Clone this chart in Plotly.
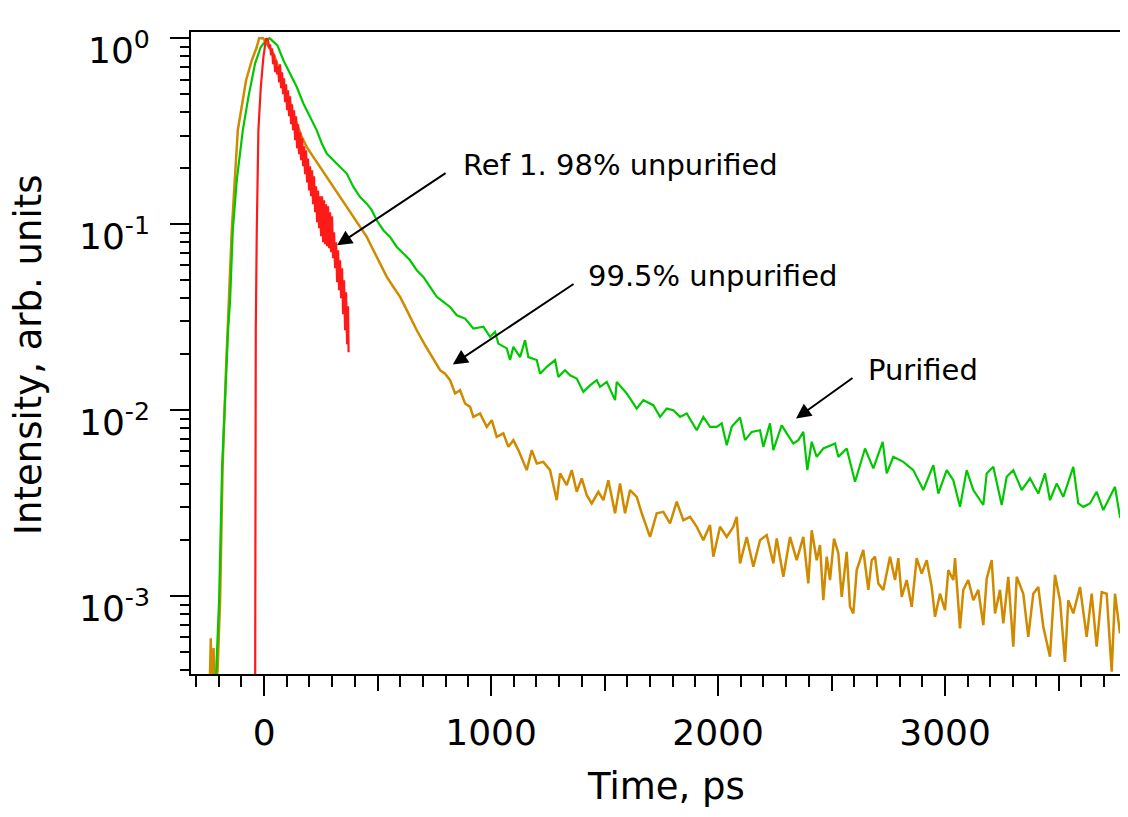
import numpy as np
import plotly.graph_objects as go

# ---------------- data (time in ps, normalized intensity) ----------------
green_t = [-214, -198.2, -185.0, -167.4, -158.6, -149.8, -137.9, -120.3, -93.8, -69.2, -39.6, -14.5, 13.2, 25.0,
           58.6, 85.0, 114.5, 144.0, 173.1, 202.6, 232.1, 254.2, 276.2, 305.3, 334.8, 364.3, 393.4, 422.9, 452.4,
           474.4, 496.4, 525.5, 555.0, 584.5, 613.6, 643.1, 672.6, 701.7, 731.2, 760.7, 789.8, 819.3, 848.8, 885.4,
           922.0, 966.0, 995.5, 1017.6, 1032.1, 1069.1, 1083.6, 1098.2, 1127.7, 1149.7, 1164.2, 1201.3, 1215.8,
           1245.3, 1281.9, 1296.4, 1325.9, 1347.9, 1377.4, 1406.5, 1436.0, 1465.5, 1480.1, 1509.6, 1546.2, 1553.6,
           1597.7, 1641.7, 1670.8, 1714.9, 1744.4, 1773.9, 1803.0, 1832.5, 1862.0, 1906.0, 1935.1, 1964.6, 1994.1,
           2016.2, 2038.2, 2060.2, 2096.8, 2118.8, 2148.3, 2184.9, 2199.4, 2228.9, 2243.5, 2280.5, 2302.5, 2331.6,
           2353.6, 2375.6, 2393.2, 2412.6, 2434.6, 2463.7, 2515.3, 2529.8, 2566.8, 2603.4, 2647.4, 2684.0, 2725.4,
           2743.0, 2772.0, 2816.1, 2860.2, 2904.2, 2948.3, 2970.3, 3007.3, 3036.4, 3065.9, 3095.4, 3124.5, 3168.5,
           3183.5, 3212.6, 3249.6, 3271.6, 3300.7, 3337.7, 3374.2, 3410.8, 3440.3, 3462.3, 3491.8, 3520.9, 3565.0,
           3587.0, 3609.0, 3638.5, 3668.0, 3697.1, 3748.7, 3770.7, 3805.9]
green_i = [3.2e-4, 9.5e-4, 4.94e-3, 0.0170, 0.0269, 0.0390, 0.0929, 0.1725, 0.320, 0.483, 0.734, 0.898, 0.99, 1.0,
           0.917, 0.762, 0.646, 0.547, 0.446, 0.377, 0.320, 0.272, 0.240, 0.221, 0.203, 0.1874, 0.1588, 0.140, 0.129,
           0.119, 0.105, 0.0929, 0.0855, 0.0755, 0.0696, 0.0640, 0.0566, 0.0521, 0.0460, 0.0407, 0.0382, 0.0359,
           0.0324, 0.0311, 0.0275, 0.0281, 0.0248, 0.0264, 0.0228, 0.0215, 0.0186, 0.0219, 0.0193, 0.0238, 0.0193,
           0.0186, 0.0157, 0.0171, 0.0186, 0.0151, 0.0164, 0.0154, 0.0148, 0.01254, 0.0136, 0.0145, 0.01334, 0.0142,
           0.01132, 0.0142, 0.0123, 0.0102, 0.01132, 0.01064, 0.0092, 0.0102, 0.0100, 0.0092, 0.0096, 0.0078, 0.0092,
           0.00813, 0.00813, 0.00849, 0.00648, 0.00813, 0.00914, 0.00690, 0.00764, 0.0078, 0.00635, 0.00849, 0.0061,
           0.0083, 0.0075, 0.00662, 0.0069, 0.00764, 0.00476, 0.00676, 0.00561, 0.00622, 0.00662, 0.00561, 0.00622,
           0.00412, 0.00622, 0.00486, 0.00676, 0.00457, 0.00561, 0.00527, 0.00476, 0.00372, 0.00506, 0.00356,
           0.00476, 0.00420, 0.00302, 0.00476, 0.00372, 0.00309, 0.00457, 0.00496, 0.00309, 0.00438, 0.00476,
           0.00372, 0.0043, 0.00356, 0.00457, 0.00328, 0.00403, 0.00342, 0.00496, 0.00315, 0.00302, 0.00315,
           0.00364, 0.0029, 0.00387, 0.00267, 0.00246]

orange_t = [-240, -234.8, -231.3, -222.5, -217, -204.8, -193.8, -182.8, -167.4, -159.9, -142.3, -115.9, -98.2, -79.3,
            -54.2, -32.2, -22.0, -4.4, 41.0, 63.0, 85.0, 107.0, 122.0, 144.0, 166.1, 188.1, 217.2, 246.7, 276.2,
            305.3, 334.8, 364.3, 393.4, 422.9, 452.4, 474.4, 496.4, 518.5, 540.5, 569.6, 599.1, 628.6, 657.7, 672.6,
            709.2, 740.0, 775.3, 797.3, 819.3, 841.4, 863.4, 885.4, 907.4, 922.0, 951.5, 981.0, 1003.0, 1025.0,
            1054.1, 1076.1, 1098.2, 1120.2, 1157.2, 1179.2, 1201.3, 1230.3, 1259.8, 1289.3, 1303.9, 1333.4, 1355.4,
            1377.4, 1399.5, 1421.5, 1443.5, 1472.6, 1494.6, 1516.6, 1546.2, 1568.2, 1590.2, 1612.2, 1641.7, 1663.8,
            1700.3, 1729.8, 1758.9, 1788.4, 1817.9, 1847.0, 1876.5, 1906.0, 1935.1, 1964.6, 1979.2, 2008.7, 2038.2,
            2067.3, 2082.2, 2096.8, 2126.3, 2155.4, 2184.9, 2214.4, 2243.5, 2258.4, 2287.5, 2317.0, 2346.5, 2375.6,
            2397.6, 2412.6, 2434.6, 2449.2, 2463.7, 2478.7, 2493.2, 2510.9, 2529.8, 2544.8, 2566.8, 2581.3, 2595.9,
            2610.8, 2639.9, 2662.0, 2676.9, 2691.5, 2706.0, 2728.0, 2757.5, 2779.6, 2794.1, 2809.1, 2831.1, 2853.1,
            2875.1, 2897.2, 2919.2, 2941.2, 2955.8, 2977.8, 2999.8, 3014.4, 3036.4, 3043.9, 3065.9, 3080.4, 3102.4,
            3124.5, 3146.5, 3168.5, 3183.5, 3205.5, 3220.1, 3242.1, 3256.7, 3278.6, 3300.7, 3315.7, 3344.7, 3366.7,
            3388.8, 3410.8, 3432.8, 3462.3, 3484.4, 3506.4, 3528.4, 3543.0, 3565.0, 3594.5, 3624.0, 3646.1, 3668.0,
            3690.1, 3712.1, 3734.1, 3748.7, 3770.7, 3785.2, 3805.9]
orange_i = [3.0e-4, 5.94e-4, 3.0e-4, 5.25e-4, 3.0e-4, 4.0e-4, 9.5e-4, 4.94e-3, 0.017, 0.0269, 0.0929, 0.320, 0.427,
            0.595, 0.762, 0.898, 1.0, 1.0, 0.828, 0.701, 0.571, 0.483, 0.410, 0.348, 0.295, 0.260, 0.230, 0.203,
            0.1796, 0.1588, 0.140, 0.124, 0.1094, 0.0967, 0.0855, 0.0755, 0.0667, 0.0589, 0.0521, 0.046, 0.0407,
            0.0345, 0.0292, 0.0269, 0.0224, 0.0193, 0.0164, 0.0157, 0.0145, 0.0123, 0.0128, 0.01087, 0.01042, 0.0092,
            0.0096, 0.00813, 0.00883, 0.00718, 0.0075, 0.00635, 0.0069, 0.0061, 0.00476, 0.0061, 0.00517, 0.00527,
            0.00476, 0.00328, 0.00457, 0.00395, 0.00476, 0.00364, 0.0043, 0.00349, 0.00315, 0.00364, 0.00328, 0.0042,
            0.00279, 0.00403, 0.00279, 0.00372, 0.00342, 0.00279, 0.00208, 0.00279, 0.00284, 0.00246, 0.00322,
            0.00256, 0.00267, 0.00236, 0.0020, 0.00241, 0.00163, 0.00236, 0.00208, 0.00236, 0.00267, 0.0015, 0.00208,
            0.00144, 0.0020, 0.00213, 0.0015, 0.00204, 0.00127, 0.00208, 0.00156, 0.00208, 0.00117, 0.00226, 0.00156,
            0.00188, 0.00095, 0.00163, 0.00122, 0.00204, 0.0017, 0.00099, 0.00173, 0.000876, 0.000807, 0.00138,
            0.00177, 0.00108, 0.00156, 0.00163, 0.00117, 0.00108, 0.00163, 0.00122, 0.0016, 0.00099, 0.00122,
            0.000876, 0.0016, 0.00132, 0.00156, 0.00112, 0.000774, 0.00103, 0.000841, 0.00138, 0.00122, 0.0016,
            0.00067, 0.00108, 0.00122, 0.00095, 0.00108, 0.000698, 0.00124, 0.00156, 0.000807, 0.00108, 0.000713,
            0.00127, 0.000534, 0.00127, 0.00103, 0.000604, 0.00103, 0.00112, 0.000684, 0.000472, 0.0013, 0.00095,
            0.000443, 0.00095, 0.000807, 0.00112, 0.000604, 0.00103, 0.000534, 0.00105, 0.00103, 0.000392, 0.00103,
            0.00063, 0.000876, 0.000914]

red_t = [-39.6, -39.6, -36.6, -32.2, -25.1, -14.5, -3.1, 8.8, 17.6, 22.0, 26.4, 30.8, 35.2, 39.6, 44.1, 48.5, 52.9,
         57.3, 61.7, 66.1, 70.5, 74.9, 79.3, 83.7, 88.1, 92.5, 96.9, 101.3, 105.7, 110.1, 114.5, 118.9, 123.3, 127.7,
         132.2, 136.6, 141.0, 145.4, 149.8, 154.2, 158.6, 163.0, 167.4, 171.8, 176.2, 180.6, 185.0, 189.4, 193.8,
         198.2, 202.6, 207.0, 211.4, 215.8, 220.3, 224.7, 229.1, 233.5, 237.9, 242.3, 246.7, 251.1, 255.5, 259.9,
         264.3, 268.7, 273.1, 277.5, 281.9, 286.3, 290.7, 295.1, 299.5, 303.9, 308.4, 312.8, 317.2, 321.6, 326.0,
         330.4, 334.8, 339.2, 343.6, 348.0, 352.4, 356.8, 361.2, 365.6, 370.0, 372.2]
red_i = [2.0e-4, 0.0186, 0.0269, 0.0929, 0.320, 0.547, 0.793, 1.0, 0.975, 0.884, 0.928, 0.810, 0.884, 0.725, 0.820,
         0.657, 0.762, 0.640, 0.707, 0.580, 0.725, 0.539, 0.657, 0.500, 0.609, 0.453, 0.566, 0.410, 0.525, 0.381,
         0.488, 0.345, 0.442, 0.320, 0.410, 0.283, 0.381, 0.256, 0.345, 0.238, 0.312, 0.221, 0.290, 0.205, 0.263,
         0.186, 0.250, 0.168, 0.226, 0.152, 0.205, 0.1415, 0.195, 0.128, 0.181, 0.116, 0.160, 0.1025, 0.152, 0.0952,
         0.1415, 0.0862, 0.1415, 0.080, 0.1346, 0.0780, 0.128, 0.0762, 0.125, 0.0743, 0.116, 0.0707, 0.1104, 0.0657,
         0.0906, 0.058, 0.080, 0.0488, 0.0725, 0.0442, 0.064, 0.040, 0.058, 0.0328, 0.050, 0.0269, 0.0431, 0.0226,
         0.0362, 0.0205]

y_tick_vals = [1, 0.1, 0.01, 0.001]
y_tick_text = ["10<sup>0</sup>", "10<sup>-1</sup>", "10<sup>-2</sup>", "10<sup>-3</sup>"]
x_tick_vals = [0, 1000, 2000, 3000]
x_mid_ticks = [500, 1500, 2500, 3500]

x_title = "Time, ps"
y_title = "Intensity, arb. units"
labels = ["Ref 1. 98% unpurified", "99.5% unpurified", "Purified"]
label_pos = [(867.8, 0.2075), (1418.4, 0.0525), (2651.8, 0.0164)]
arrow_head = [(321.6, 0.0771), (831.2, 0.0176), (2343.5, 0.00902)]
arrow_tail = [(806.1, 0.1905), (1370.0, 0.0483), (2599.0, 0.0151)]

X_RANGE = [-322, 3806]
Y_RANGE = [-3.419, 0.034]

FONT = "DejaVu Sans"
GREEN = "#00C800"
ORANGE = "#D08A00"
RED = "#FF1A1A"

fig = go.Figure()
fig.add_trace(go.Scatter(x=orange_t, y=orange_i, mode="lines", line=dict(color=ORANGE, width=2.5), showlegend=False))
fig.add_trace(go.Scatter(x=green_t, y=green_i, mode="lines", line=dict(color=GREEN, width=2.2), showlegend=False))
fig.add_trace(go.Scatter(x=red_t, y=red_i, mode="lines", line=dict(color=RED, width=2.2), showlegend=False))
# helper trace so the overlay axis (mid ticks) is rendered
fig.add_trace(go.Scatter(x=[x_mid_ticks[0]], y=[None], xaxis="x2", mode="lines", showlegend=False, hoverinfo="skip"))

for (hx, hy), (tx, ty) in zip(arrow_head, arrow_tail):
    fig.add_annotation(x=hx, y=np.log10(hy), ax=tx, ay=np.log10(ty), xref="x", yref="y", axref="x", ayref="y",
                       text="", showarrow=True, arrowhead=2, arrowsize=1.5, arrowwidth=2, arrowcolor="black")
for txt, (lx, ly) in zip(labels, label_pos):
    fig.add_annotation(x=lx, y=np.log10(ly), xref="x", yref="y", text=txt, showarrow=False,
                       xanchor="left", yanchor="middle", font=dict(family=FONT, size=29, color="black"))

# y tick labels (10^n with superscripts), placed as text next to the axis ticks
for v, t in zip(y_tick_vals, y_tick_text):
    fig.add_annotation(x=-0.0416, y=np.log10(v), xref="paper", yref="y", text=t, showarrow=False,
                       xanchor="right", yanchor="middle", yshift=-10,
                       font=dict(family=FONT, size=36, color="black"))

# axis titles
fig.add_annotation(x=0.507, y=-0.176, xref="paper", yref="paper", text=x_title, showarrow=False,
                   xanchor="center", yanchor="middle", font=dict(family=FONT, size=37, color="black"))
fig.add_annotation(x=-0.1729, y=0.497, xref="paper", yref="paper", text=y_title, showarrow=False, textangle=-90,
                   xanchor="center", yanchor="middle", font=dict(family=FONT, size=37, color="black"))

minor_y = [m * 10.0 ** e for e in range(-4, 0) for m in range(2, 10)]

# the page body has an 8px margin; size the figure so the plot area lands where the reference has it
fig.update_layout(
    width=1120, height=809,
    margin=dict(l=183, r=0, t=24, b=143, autoexpand=False),
    paper_bgcolor="white", plot_bgcolor="white",
    font=dict(family=FONT, color="black"),
    xaxis=dict(range=X_RANGE, tickvals=x_tick_vals, ticks="outside", ticklen=20, tickwidth=2, tickcolor="black",
               showline=True, linewidth=2, linecolor="black", mirror=True, showgrid=False, zeroline=False,
               automargin=False, tickfont=dict(family=FONT, size=36), ticklabelstandoff=6,
               minor=dict(dtick=100, tick0=0, ticks="outside", ticklen=11, tickwidth=2, tickcolor="black", showgrid=False)),
    xaxis2=dict(range=X_RANGE, overlaying="x", anchor="y", side="bottom", tickvals=x_mid_ticks, ticks="outside",
                ticklen=16, tickwidth=2, tickcolor="black", showticklabels=False, showline=False, showgrid=False,
                zeroline=False, automargin=False),
    yaxis=dict(type="log", range=Y_RANGE, tickvals=y_tick_vals, showticklabels=False, ticks="outside",
               ticklen=19, tickwidth=2, tickcolor="black", showline=True, linewidth=2, linecolor="black",
               mirror=False, showgrid=False, zeroline=False, automargin=False,
               minor=dict(tickvals=minor_y, ticks="outside", ticklen=9, tickwidth=2, tickcolor="black", showgrid=False)),
)

fig.write_html("out.html")
